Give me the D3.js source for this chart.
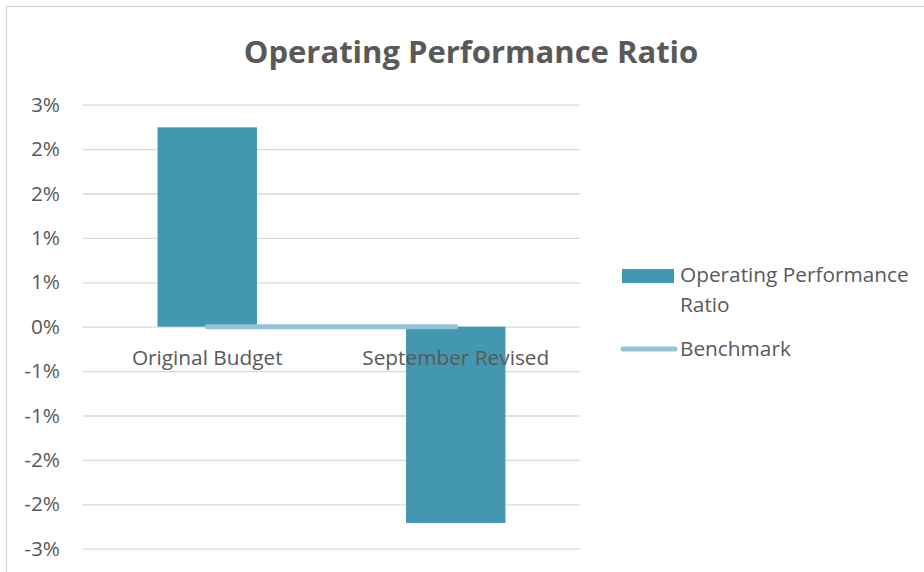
<!DOCTYPE html>
<html><head><meta charset="utf-8">
<script src="https://cdn.jsdelivr.net/npm/d3@7"></script>
<style>body{margin:0;background:#fff;}svg{display:block;font-family:"Open Sans",sans-serif;}</style>
</head><body><svg id="c" width="924" height="572"></svg>
<script>
const categories = ["Original Budget", "September Revised"];
const ratioValues = [0.02245, -0.0221];
const benchmarkValues = [0, 0];
const yTicks = [0.025, 0.02, 0.015, 0.01, 0.005, 0, -0.005, -0.01, -0.015, -0.02, -0.025];
const title = "Operating Performance Ratio";

const svg = d3.select("#c");
const M = {left: 83, right: 580, top: 104.7, bottom: 548.7};
const x = d3.scaleBand().domain(categories).range([M.left, M.right]).paddingInner(0.6).paddingOuter(0.3);
const xc = d3.scaleBand().domain(categories).range([M.left, M.right]);
const y = d3.scaleLinear().domain([-0.025, 0.025]).range([M.bottom, M.top]);
const fmt = d => d3.format(".0%")(d).replace("\u2212", "-");
const FS = 20.8;

svg.append("rect").attr("x", 6.5).attr("y", 6.5).attr("width", 940).attr("height", 600)
  .attr("fill", "none").attr("stroke", "#d9d9d9").attr("stroke-width", 1.3);

svg.append("text").attr("x", 471).attr("y", 63).attr("text-anchor", "middle")
  .attr("font-size", 31).attr("font-weight", "bold").attr("fill", "#595959").text(title);

const yAxis = d3.axisLeft(y).tickValues(yTicks).tickSize(-(M.right - M.left)).tickPadding(23).tickFormat(fmt);
const g = svg.append("g").attr("transform", `translate(${M.left},0)`).call(yAxis);
g.select(".domain").remove();
g.selectAll(".tick line").attr("stroke", "#d9d9d9").attr("stroke-width", 1.3);
g.selectAll(".tick text").attr("fill", "#595959").attr("font-size", FS).attr("font-family", "Open Sans,sans-serif");

svg.selectAll("rect.bar").data(categories).enter().append("rect").attr("class", "bar")
  .attr("x", d => x(d)).attr("width", x.bandwidth())
  .attr("y", (d, i) => y(Math.max(0, ratioValues[i])))
  .attr("height", (d, i) => Math.abs(y(ratioValues[i]) - y(0)))
  .attr("fill", "#4397b0");

svg.selectAll("text.cat").data(categories).enter().append("text").attr("class", "cat")
  .attr("x", d => xc(d) + xc.bandwidth() / 2).attr("y", 365).attr("text-anchor", "middle")
  .attr("font-size", FS).attr("fill", "#595959").text(d => d);

const line = d3.line().x((d, i) => xc(categories[i]) + xc.bandwidth() / 2).y(d => y(d));
svg.append("path").datum(benchmarkValues).attr("d", line).attr("fill", "none")
  .attr("stroke", "#92c4d5").attr("stroke-width", 5).attr("stroke-linecap", "round");

const lg = svg.append("g");
lg.append("rect").attr("x", 622).attr("y", 269).attr("width", 52).attr("height", 14).attr("fill", "#4397b0");
lg.append("text").attr("x", 680).attr("y", 282).attr("font-size", FS).attr("fill", "#595959").text("Operating Performance");
lg.append("text").attr("x", 680).attr("y", 312).attr("font-size", FS).attr("fill", "#595959").text("Ratio");
lg.append("line").attr("x1", 623).attr("x2", 675).attr("y1", 349).attr("y2", 349)
  .attr("stroke", "#92c4d5").attr("stroke-width", 5).attr("stroke-linecap", "round");
lg.append("text").attr("x", 680).attr("y", 356).attr("font-size", FS).attr("fill", "#595959").text("Benchmark");
</script></body></html>
